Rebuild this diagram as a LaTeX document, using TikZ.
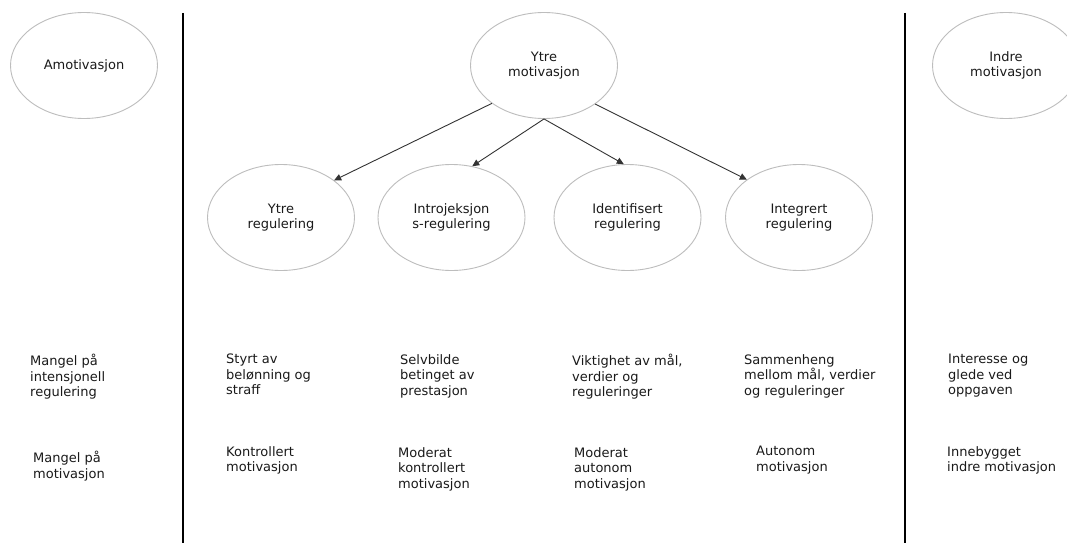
\documentclass[tikz,border=0pt]{standalone}
\usepackage{fontspec}
\setmainfont{DejaVu Sans}
\usetikzlibrary{arrows.meta,shapes.geometric}
\definecolor{ecol}{HTML}{BDBDBD}
\definecolor{acol}{HTML}{333333}
\definecolor{tcol}{HTML}{1A1A1A}
\begin{document}
\begin{tikzpicture}[x=1pt,y=-1pt,
  txt/.style={text=tcol,font=\fontsize{13}{15.5}\selectfont},
  oval/.style={txt,ellipse,draw=ecol,line width=0.9pt,minimum width=147pt,minimum height=106pt,inner sep=0pt,align=center},
  lbl/.style={txt,anchor=north west,align=left,inner sep=0pt},
  arr/.style={draw=acol,line width=0.9pt,-{Triangle[length=7pt,width=6.5pt]}},
  divider/.style={line width=1.1pt,draw=black}]
\useasboundingbox (0,0) rectangle (1067,543);
\clip (0,0) rectangle (1067,543);
\fill[white] (0,0) rectangle (1067,543);

% dividers
\coordinate (d1t) at (183,13);
\coordinate (d1b) at (183,543);
\coordinate (d2t) at (905,13);
\coordinate (d2b) at (905,543);
\draw[divider] (d1t) -- (d1b);
\draw[divider] (d2t) -- (d2b);

% top ellipses
\node[oval] (am) at (84,65.5) {Amotivasjon};
\node[oval] (ym) at (544,65.5) {Ytre\\motivasjon};
\node[oval] (im) at (1006,65.5) {Indre\\motivasjon};

% second row
\node[oval] (e1) at (281,217.5) {Ytre\\regulering};
\node[oval] (e2) at (451.5,217.5) {Introjeksjon\\s-regulering};
\node[oval] (e3) at (627.5,217.5) {Identifisert\\regulering};
\node[oval] (e4) at (799,217.5) {Integrert\\regulering};

% arrows
\draw[arr] (ym.216.5) -- (e1.35.8);
\draw[arr] (ym.south) -- (e2.68);
\draw[arr] (ym.south) -- (e3.94);
\draw[arr] (ym.323.5) -- (e4.144.2);

% row A descriptions
\node[lbl] (a0) at (30,354) {Mangel på\\intensjonell\\regulering};
\node[lbl] (a1) at (226,354) {Styrt av\\belønning og\\straff};
\node[lbl] (a2) at (400,354) {Selvbilde\\betinget av\\prestasjon};
\node[lbl] (a3) at (572,354) {Viktighet av mål,\\verdier og\\reguleringer};
\node[lbl] (a4) at (744,354) {Sammenheng\\mellom mål, verdier\\og reguleringer};
\node[lbl] (a5) at (948,354) {Interesse og\\glede ved\\oppgaven};

% row B descriptions
\node[lbl] (b0) at (33,451) {Mangel på\\motivasjon};
\node[lbl] (b1) at (226,446) {Kontrollert\\motivasjon};
\node[lbl] (b2) at (398,447) {Moderat\\kontrollert\\motivasjon};
\node[lbl] (b3) at (574,447) {Moderat\\autonom\\motivasjon};
\node[lbl] (b4) at (756,446) {Autonom\\motivasjon};
\node[lbl] (b5) at (947,446) {Innebygget\\indre motivasjon};
\end{tikzpicture}
\end{document}
